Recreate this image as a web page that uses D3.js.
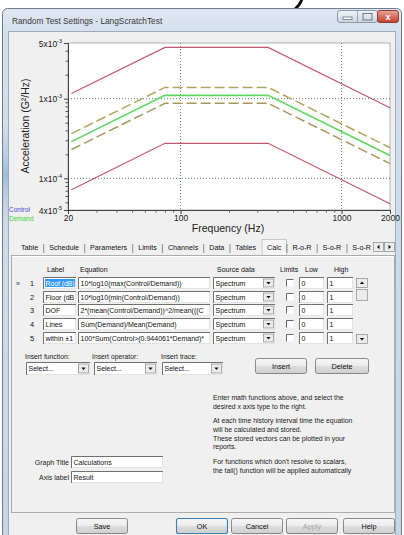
<!DOCTYPE html>
<html><head><meta charset="utf-8">
<script src="https://cdn.jsdelivr.net/npm/d3@7"></script>
<style>
html,body{margin:0;padding:0;background:#fff;}
svg{display:block;}
text{font-family:"Liberation Sans",Arial,sans-serif;}
</style></head><body>
<svg id="c" width="404" height="535"></svg>
<script>
// ---- Random vibration profile (breakpoints in Hz, PSD in G²/Hz) ----
const frequencies = [21, 80, 350, 2000];
const demandLevels = [2.89e-4, 1.1e-3, 1.1e-3, 1.93e-4];
const alarmHigh    = [3.64e-4, 1.385e-3, 1.385e-3, 2.42e-4];
const alarmLow     = [2.3e-4, 8.74e-4, 8.74e-4, 1.53e-4];
const abortHigh    = [1.16e-3, 4.4e-3, 4.4e-3, 7.7e-4];
const abortLow     = [7.2e-5, 2.75e-4, 2.75e-4, 4.8e-5];

const xTickValues = [20, 100, 1000, 2000];
const xMinorTicks = [30, 40, 50, 60, 70, 80, 90, 200, 300, 400, 500, 600, 700, 800, 900];
const yTickValues = [4e-5, 1e-4, 1e-3, 5e-3];
const yTickLabels = [["4x10", "-5"], ["1x10", "-4"], ["1x10", "-3"], ["5x10", "-3"]];
const yMinorTicks = [5e-5, 6e-5, 7e-5, 8e-5, 9e-5, 2e-4, 3e-4, 4e-4, 5e-4, 6e-4, 7e-4, 8e-4, 9e-4, 2e-3, 3e-3, 4e-3];
const gridX = [100, 1000];
const gridY = [1e-4, 1e-3];
const legendNames = ["Control", "Demand"];

// ---- Dialog content ----
const windowTitle = "Random Test Settings - LangScratchTest";
const tabNames = ["Table", "Schedule", "Parameters", "Limits", "Channels", "Data", "Tables", "Calc", "R-o-R", "S-o-R", "S-o-R"];
const selectedTab = "Calc";
const columnHeaders = ["Label", "Equation", "Source data", "Limits", "Low", "High"];
const rowLabels = ["Roof (dB)", "Floor (dB", "DOF", "Lines", "within \u00b11"];
const rowEquations = [
  "10*log10(max(Control/Demand))",
  "10*log10(min(Control/Demand))",
  "2*(mean(Control/Demand))^2/mean(((C",
  "Sum(Demand)/Mean(Demand)",
  "100*Sum(Control>(0.944061*Demand)*"
];
const rowSources = ["Spectrum", "Spectrum", "Spectrum", "Spectrum", "Spectrum"];
const rowLow = ["0", "0", "0", "0", "0"];
const rowHigh = ["1", "1", "1", "1", "1"];
const insertLabels = ["Insert function:", "Insert operator:", "Insert trace:"];
const infoParagraph1 = ["Enter math functions above, and select the", "desired x axis type to the right."];
const infoParagraph2 = ["At each time history interval time the equation", "will be calculated and stored.", "These stored vectors can be plotted in your", "reports."];
const infoParagraph3 = ["For functions which don't resolve to scalars,", "the tail() function will be applied automatically"];
const graphTitle = "Calculations";
const axisLabel = "Result";
const dialogButtons = ["Save", "OK", "Cancel", "Apply", "Help"];

const svg = d3.select("#c");
const defs = svg.append("defs");

function vGrad(id, stops) {
  const g = defs.append("linearGradient").attr("id", id)
    .attr("x1", 0).attr("y1", 0).attr("x2", 0).attr("y2", 1);
  stops.forEach(([o, c]) => g.append("stop").attr("offset", o).attr("stop-color", c));
}
vGrad("frameGrad", [[0, "#dfe8f2"], [0.05, "#d3dfec"], [1, "#c6d4e3"]]);
vGrad("btnGrad", [[0, "#f6f6f6"], [0.5, "#ebebeb"], [0.51, "#dddddd"], [1, "#cfcfcf"]]);
vGrad("capGrad", [[0, "#f2f5f9"], [0.5, "#dde5ee"], [1, "#c9d4e0"]]);
vGrad("closeGrad", [[0, "#e9a99b"], [0.5, "#d6705f"], [1, "#c2402f"]]);
vGrad("sideGrad", [[0, "#d6e1ee"], [0.3, "#b8cbe0"], [0.45, "#9fb7d2"], [0.7, "#c3d2e3"], [1, "#d0dbe8"]]);

// page background
svg.append("rect").attr("width", 404).attr("height", 535).attr("fill", "#ffffff");
// descender stroke of the heading lettering above the window
svg.append("path").attr("d", "M302,-1 Q300,5 295,9").attr("fill", "none")
  .attr("stroke", "#111").attr("stroke-width", 2.8).attr("stroke-linecap", "round");

// ---- Window frame ----
svg.append("rect").attr("x", 2.5).attr("y", 8.5).attr("width", 399).attr("height", 532)
  .attr("rx", 5).attr("fill", "url(#frameGrad)").attr("stroke", "#6f7c8c");
svg.append("rect").attr("x", 3).attr("y", 120).attr("width", 6).attr("height", 120)
  .attr("fill", "url(#sideGrad)").attr("opacity", 0.9);
svg.append("text").attr("x", 12).attr("y", 23.5).attr("font-size", 8.3)
  .attr("fill", "#3a3a3a").text(windowTitle);

// caption buttons
svg.append("rect").attr("x", 337.5).attr("y", 10.5).attr("width", 40).attr("height", 12)
  .attr("rx", 2.5).attr("fill", "url(#capGrad)").attr("stroke", "#8c99aa");
svg.append("line").attr("x1", 357.5).attr("x2", 357.5).attr("y1", 11).attr("y2", 22).attr("stroke", "#9aa7b7");
svg.append("rect").attr("x", 343).attr("y", 17).attr("width", 9).attr("height", 2.5)
  .attr("fill", "#fff").attr("stroke", "#55606e").attr("stroke-width", 0.7);
svg.append("rect").attr("x", 363).attr("y", 13.5).attr("width", 9).attr("height", 6.5)
  .attr("fill", "none").attr("stroke", "#55606e").attr("stroke-width", 0.8);
svg.append("rect").attr("x", 377.5).attr("y", 10.5).attr("width", 21).attr("height", 12)
  .attr("rx", 2.5).attr("fill", "url(#closeGrad)").attr("stroke", "#8c3c31");
svg.append("text").attr("x", 388).attr("y", 20).attr("text-anchor", "middle").attr("font-size", 9)
  .attr("font-weight", "bold").attr("fill", "#fff").text("x");

// client area
svg.append("rect").attr("x", 8.5).attr("y", 31.5).attr("width", 387).attr("height", 510)
  .attr("fill", "#f0f0f0").attr("stroke", "#9eabba");

// ---- Chart ----
const plot = { left: 68, right: 390, top: 43, bottom: 210 };
const x = d3.scaleLog().domain([20, 2000]).range([plot.left, plot.right]);
const y = d3.scaleLog().domain([4e-5, 5e-3]).range([plot.bottom, plot.top]);

const chart = svg.append("g");
chart.append("rect").attr("x", plot.left).attr("y", plot.top)
  .attr("width", plot.right - plot.left).attr("height", plot.bottom - plot.top)
  .attr("fill", "#ffffff").attr("stroke", "#a0a0a0").attr("stroke-width", 0.8);

const grid = chart.append("g").attr("stroke", "#4d7d5a").attr("stroke-width", 0.9)
  .attr("stroke-dasharray", "1,2");
grid.selectAll("line.gx").data(gridX).join("line").attr("class", "gx")
  .attr("x1", d => x(d)).attr("x2", d => x(d)).attr("y1", plot.top).attr("y2", plot.bottom);
grid.selectAll("line.gy").data(gridY).join("line").attr("class", "gy")
  .attr("y1", d => y(d)).attr("y2", d => y(d)).attr("x1", plot.left).attr("x2", plot.right);

const profileLine = d3.line().x((d, i) => x(frequencies[i])).y(d => y(d));
const series = [
  { values: abortHigh, color: "#c4566d", width: 1.2, dash: null },
  { values: abortLow, color: "#c4566d", width: 1.2, dash: null },
  { values: alarmHigh, color: "#b3a360", width: 1.5, dash: "10,4" },
  { values: alarmLow, color: "#a8985a", width: 1.5, dash: "10,4" },
  { values: demandLevels, color: "#5fd85f", width: 1.6, dash: null }
];
chart.selectAll("path.series").data(series).join("path").attr("class", "series")
  .attr("d", d => profileLine(d.values)).attr("fill", "none")
  .attr("stroke", d => d.color).attr("stroke-width", d => d.width)
  .attr("stroke-dasharray", d => d.dash);

// y axis
const gY = chart.append("g").attr("transform", `translate(${plot.left},0)`)
  .call(d3.axisLeft(y).tickValues(yTickValues).tickSize(4).tickFormat(""));
gY.select(".domain").attr("stroke", "#444");
gY.selectAll(".tick line").attr("stroke", "#444");
gY.selectAll(".tick").each(function (d, i) {
  const t = d3.select(this).append("text").attr("x", -6).attr("y", 3)
    .attr("text-anchor", "end").attr("fill", "#222").attr("font-size", 8.5);
  t.append("tspan").text(yTickLabels[i][0]);
  t.append("tspan").attr("font-size", 5.5).attr("dy", -4).text(yTickLabels[i][1]);
});
const gYm = chart.append("g").attr("transform", `translate(${plot.left},0)`)
  .call(d3.axisLeft(y).tickValues(yMinorTicks).tickSize(2.5).tickFormat(""));
gYm.select(".domain").remove();
gYm.selectAll(".tick line").attr("stroke", "#555");

// x axis
const gX = chart.append("g").attr("transform", `translate(0,${plot.bottom})`)
  .call(d3.axisBottom(x).tickValues(xTickValues).tickSize(4).tickPadding(1).tickFormat(d3.format("d")));
gX.select(".domain").attr("stroke", "#444");
gX.selectAll(".tick line").attr("stroke", "#444");
gX.selectAll(".tick text").attr("font-size", 8.5).attr("fill", "#222")
  .attr("font-family", "Liberation Sans, Arial, sans-serif");
const gXm = chart.append("g").attr("transform", `translate(0,${plot.bottom})`)
  .call(d3.axisBottom(x).tickValues(xMinorTicks).tickSize(2.5).tickFormat(""));
gXm.select(".domain").remove();
gXm.selectAll(".tick line").attr("stroke", "#555");

chart.append("text").attr("x", 228).attr("y", 232).attr("text-anchor", "middle")
  .attr("font-size", 10.5).attr("fill", "#222").text("Frequency (Hz)");
chart.append("text").attr("transform", "translate(29,126) rotate(-90)").attr("text-anchor", "middle")
  .attr("font-size", 10.5).attr("fill", "#222").text("Acceleration (G\u00b2/Hz)");

const legendColors = ["#4b4bd0", "#3fd23f"];
chart.selectAll("text.legend").data(legendNames).join("text").attr("class", "legend")
  .attr("x", 9).attr("y", (d, i) => 212 + i * 9).attr("font-size", 6.5)
  .attr("fill", (d, i) => legendColors[i]).text(d => d);

// ---- Helpers for the dialog controls ----
function fitText(t, maxW) {
  const w = t.node().getComputedTextLength();
  if (w > maxW) t.attr("textLength", maxW).attr("lengthAdjust", "spacingAndGlyphs");
}
function editBox(x0, y0, w, h, txt, highlight, reserve = 0) {
  const g = svg.append("g");
  g.append("rect").attr("x", x0 + 0.5).attr("y", y0 + 0.5).attr("width", w - 1).attr("height", h - 1)
    .attr("fill", "#fff").attr("stroke", "#e3e3e3");
  g.append("path").attr("d", `M${x0 + 0.5},${y0 + h}V${y0 + 0.5}H${x0 + w}`)
    .attr("fill", "none").attr("stroke", "#707070");
  if (highlight) {
    g.append("rect").attr("x", x0 + 2).attr("y", y0 + 2).attr("width", w - 3).attr("height", h - 4)
      .attr("fill", "#3399ff");
  }
  const t = g.append("text").attr("x", x0 + 2.5).attr("y", y0 + h / 2 + 2.5).attr("font-size", 7)
    .attr("fill", highlight ? "#fff" : "#111").text(txt);
  fitText(t, w - 4 - reserve);
}
function arrowGlyph(g, cx, cy, dir) {
  const s = 2.2;
  const d = dir === "down" ? `M${cx - s},${cy - 1}L${cx + s},${cy - 1}L${cx},${cy + 1.5}Z`
    : dir === "up" ? `M${cx - s},${cy + 1}L${cx + s},${cy + 1}L${cx},${cy - 1.5}Z`
    : dir === "left" ? `M${cx + 1},${cy - s}L${cx + 1},${cy + s}L${cx - 1.5},${cy}Z`
    : `M${cx - 1},${cy - s}L${cx - 1},${cy + s}L${cx + 1.5},${cy}Z`;
  g.append("path").attr("d", d).attr("fill", "#111");
}
function smallButton(x0, y0, w, h, dir) {
  const g = svg.append("g");
  g.append("rect").attr("x", x0 + 0.5).attr("y", y0 + 0.5).attr("width", w - 1).attr("height", h - 1)
    .attr("fill", "#ececec").attr("stroke", "#8a8a8a").attr("stroke-width", 0.7);
  arrowGlyph(g, x0 + w / 2, y0 + h / 2, dir);
  return g;
}
function dropDown(x0, y0, w, h, txt) {
  editBox(x0, y0, w, h, txt, false, 12);
  smallButton(x0 + w - 12, y0 + 1.5, 11, h - 3, "down");
}
function pushButton(x0, y0, w, h, txt, opts = {}) {
  const g = svg.append("g");
  g.append("rect").attr("x", x0 + 0.5).attr("y", y0 + 0.5).attr("width", w - 1).attr("height", h - 1)
    .attr("rx", 2).attr("fill", "url(#btnGrad)")
    .attr("stroke", opts.isDefault ? "#3c7fb1" : "#707070").attr("stroke-width", opts.isDefault ? 1.1 : 0.8);
  g.append("text").attr("x", x0 + w / 2).attr("y", y0 + h / 2 + 2.6).attr("text-anchor", "middle")
    .attr("font-size", 7.3).attr("fill", opts.disabled ? "#a8a8a8" : "#111").text(txt);
}

// ---- Tab strip ----
const tabY = 250;
const tabStart = 21, tabEnd = 371;
const tabTexts = svg.append("g").attr("font-size", 7.2).attr("fill", "#111");
const tabNodes = tabNames.map(n => tabTexts.append("text").attr("y", tabY).text(n));
const widths = tabNodes.map(t => t.node().getComputedTextLength());
const gap = (tabEnd - tabStart - d3.sum(widths)) / (tabNames.length - 1);
let cursor = tabStart;
tabNodes.forEach((t, i) => {
  t.attr("x", cursor);
  if (tabNames[i] === selectedTab) {
    svg.insert("rect", "g")
      .attr("x", cursor - gap / 2 + 0.5).attr("y", 239.5).attr("width", widths[i] + gap - 1).attr("height", 16)
      .attr("fill", "#f7f7f7").attr("stroke", "#b5b5b5").attr("stroke-width", 0.7);
  }
  cursor += widths[i];
  if (i < tabNames.length - 1 && tabNames[i + 1] !== selectedTab) {
    tabTexts.append("text").attr("x", cursor + gap / 2).attr("y", tabY + 0.5)
      .attr("text-anchor", "middle").attr("font-size", 8.5).attr("fill", "#666").text("|");
  }
  cursor += gap;
});
smallButton(373, 242, 11, 10, "left");
smallButton(384, 242, 11, 10, "right");

// tab page
svg.append("rect").attr("x", 11.5).attr("y", 255.5).attr("width", 383).attr("height", 257)
  .attr("fill", "#f0f0f0").attr("stroke", "#9c9c9c").attr("stroke-width", 0.8);
svg.append("line").attr("x1", 12).attr("x2", 394).attr("y1", 256.5).attr("y2", 256.5)
  .attr("stroke", "#ffffff");

// ---- Equation table ----
const headerX = [47, 80, 217, 280, 305, 334];
svg.append("g").selectAll("text").data(columnHeaders).join("text")
  .attr("x", (d, i) => headerX[i]).attr("y", 271.5).attr("font-size", 7).attr("fill", "#111").text(d => d);

const rowTop = [277, 291, 304, 318, 332];
rowTop.forEach((ry, i) => {
  if (i === 0) svg.append("text").attr("x", 16).attr("y", ry + 8.5).attr("font-size", 7).attr("fill", "#333").text("\u00bb");
  svg.append("text").attr("x", 34).attr("y", ry + 8.5).attr("text-anchor", "end")
    .attr("font-size", 7.3).attr("fill", "#111").text(i + 1);
  editBox(43, ry, 33, 12, rowLabels[i], i === 0);
  editBox(78, ry, 132, 12, rowEquations[i], false);
  dropDown(213, ry, 62, 12, rowSources[i]);
  const cb = svg.append("g");
  cb.append("rect").attr("x", 286.5).attr("y", ry + 2.5).attr("width", 7).attr("height", 7).attr("fill", "#fff");
  cb.append("path").attr("d", `M286.5,${ry + 9.5}V${ry + 2.5}H293.5`).attr("fill", "none").attr("stroke", "#6a6a6a");
  editBox(299, ry, 25, 12, rowLow[i], false);
  editBox(327, ry, 26, 12, rowHigh[i], false);
});
// vertical scroller beside the rows
smallButton(356, 278, 12, 10, "up");
svg.append("rect").attr("x", 356.5).attr("y", 289.5).attr("width", 11).attr("height", 11)
  .attr("fill", "#ececec").attr("stroke", "#8a8a8a").attr("stroke-width", 0.7);
smallButton(356, 334, 12, 10, "down");

// ---- Insert helpers ----
const insertX = [25, 92, 161];
const selectX = [[26, 64], [94, 63], [162, 61]];
insertLabels.forEach((t, i) => {
  svg.append("text").attr("x", insertX[i]).attr("y", 359).attr("font-size", 6.8).attr("fill", "#222").text(t);
  dropDown(selectX[i][0], 362, selectX[i][1], 13, "Select...");
});
pushButton(255, 358, 52, 16, "Insert");
pushButton(315, 358, 54, 16, "Delete");

// ---- Information text ----
const info = svg.append("g").attr("font-size", 6.9).attr("fill", "#222");
infoParagraph1.forEach((t, i) => info.append("text").attr("x", 213).attr("y", 400 + i * 8.8).text(t));
infoParagraph2.forEach((t, i) => info.append("text").attr("x", 213).attr("y", 423 + i * 8.8).text(t));
infoParagraph3.forEach((t, i) => info.append("text").attr("x", 213).attr("y", 464 + i * 8.8).text(t));

// ---- Graph title / axis label ----
svg.append("text").attr("x", 69).attr("y", 464.5).attr("text-anchor", "end").attr("font-size", 7).attr("fill", "#222").text("Graph Title");
editBox(71, 456, 92, 12, graphTitle, false);
svg.append("text").attr("x", 69).attr("y", 479.5).attr("text-anchor", "end").attr("font-size", 7).attr("fill", "#222").text("Axis label");
editBox(71, 471, 92, 12, axisLabel, false);

// ---- Dialog buttons ----
const buttonX = [[76, 52], [176, 52], [231, 52], [286, 52], [343, 52]];
dialogButtons.forEach((b, i) => {
  pushButton(buttonX[i][0], 518, buttonX[i][1], 16, b, { isDefault: b === "OK", disabled: b === "Apply" });
});
</script>
</body></html>
